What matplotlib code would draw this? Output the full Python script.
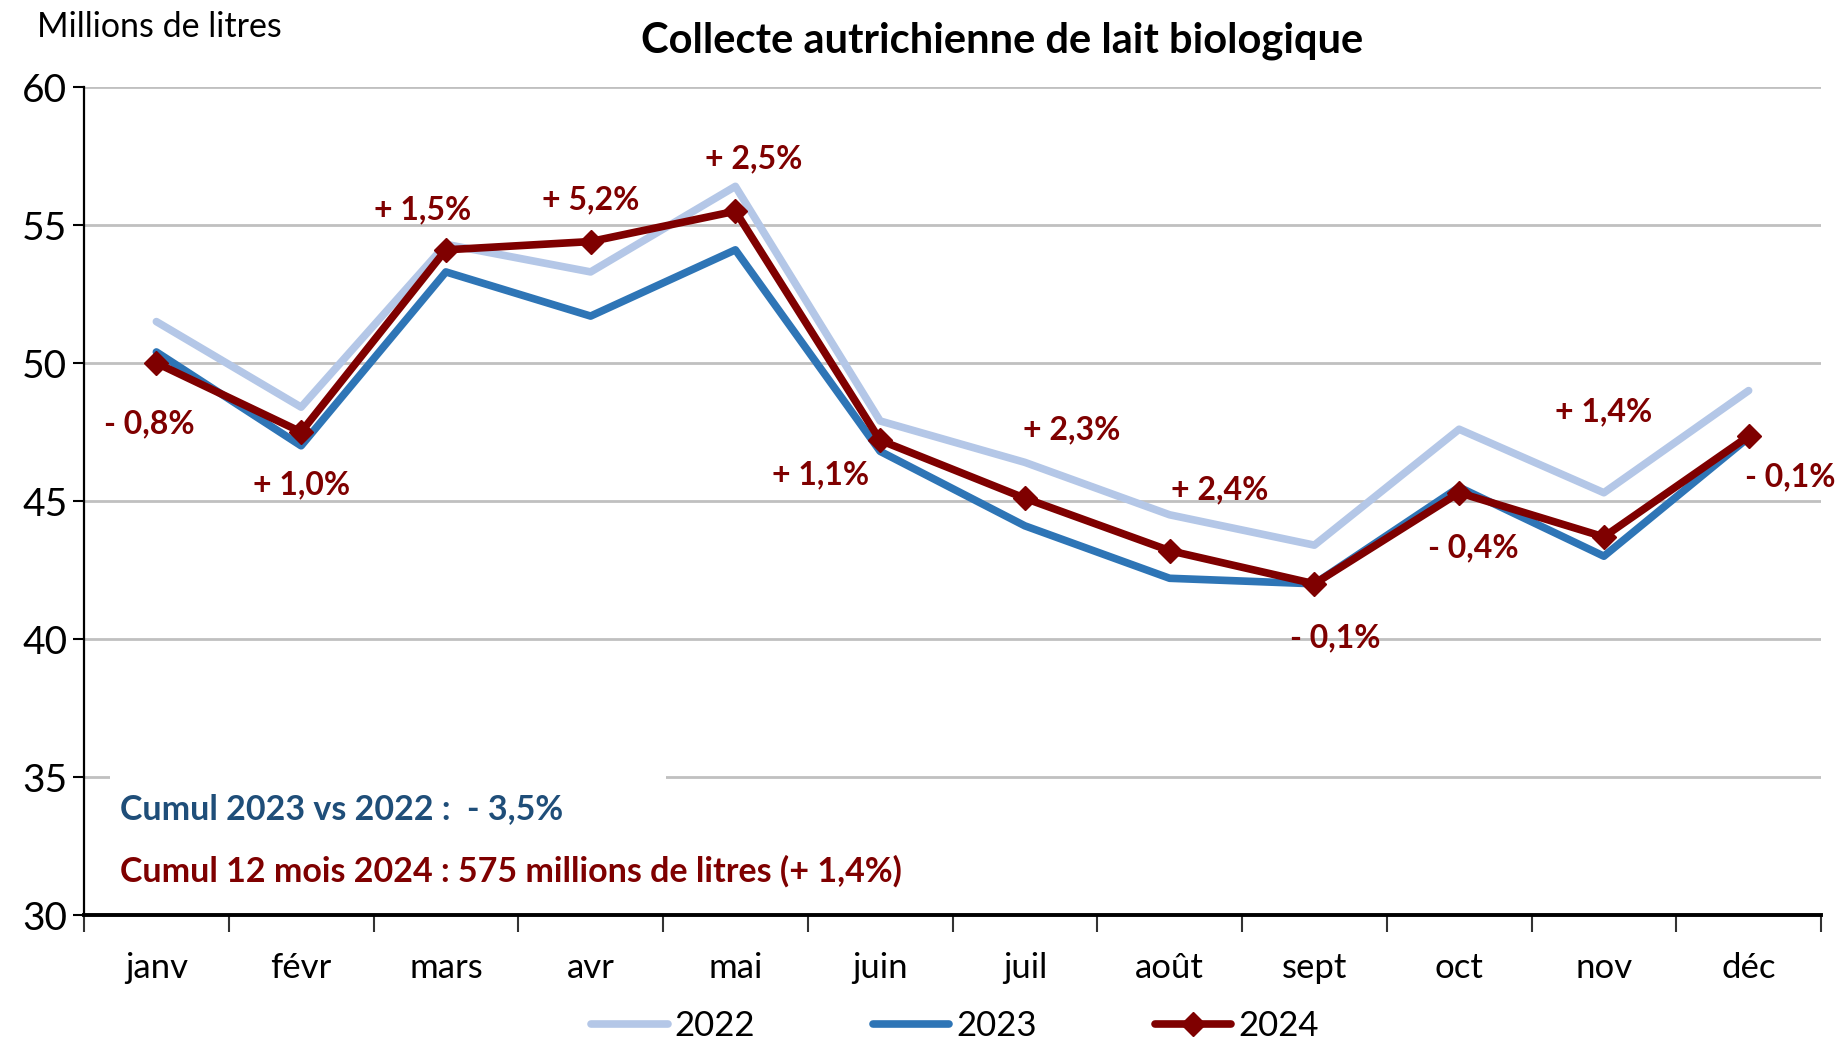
import numpy as np
import matplotlib
matplotlib.use("Agg")
from matplotlib import pyplot as plt
from matplotlib.patches import Rectangle

plt.rcParams['font.family'] = ['Lato', 'DejaVu Sans']

# donnees (millions de litres)
mois = ["janv", "févr", "mars", "avr", "mai", "juin", "juil", "août", "sept", "oct", "nov", "déc"]
v2022 = [51.5, 48.4, 54.3, 53.3, 56.4, 47.9, 46.4, 44.5, 43.4, 47.6, 45.3, 49.0]
v2023 = [50.4, 47.0, 53.3, 51.7, 54.1, 46.8, 44.1, 42.2, 42.0, 45.5, 43.0, 47.3]
v2024 = [50.0, 47.5, 54.1, 54.4, 55.5, 47.2, 45.1, 43.2, 42.0, 45.3, 43.7, 47.35]
variations = ["- 0,8%", "+ 1,0%", "+ 1,5%", "+ 5,2%", "+ 2,5%", "+ 1,1%",
              "+ 2,3%", "+ 2,4%", "- 0,1%", "- 0,4%", "+ 1,4%", "- 0,1%"]

C22 = "#b4c7e7"
C23 = "#2e75b6"
C24 = "#7f0000"

fig = plt.figure(figsize=(18.38, 10.42), dpi=100)
ax = fig.add_axes([84/1838, 1-915/1042, (1821-84)/1838, (915-87)/1042])

x = np.arange(len(mois))
ax.plot(x, v2022, color=C22, lw=5.5, solid_capstyle="round", label="2022", zorder=3)
ax.plot(x, v2023, color=C23, lw=5.5, solid_capstyle="round", label="2023", zorder=4)
ax.plot(x, v2024, color=C24, lw=5.5, solid_capstyle="round", marker="D",
        markersize=12, label="2024", zorder=5)

# decalages des etiquettes (points)
offsets = [(-5, -44), (0, -38), (-17, 29), (0, 30), (13, 38), (-43, -25),
           (34, 49), (36, 44), (15, -39), (10, -40), (0, 90), (30, -29)]
for i, (txt, off) in enumerate(zip(variations, offsets)):
    ax.annotate(txt, (x[i], v2024[i]), xytext=off, textcoords="offset points",
                ha="center", va="center", color=C24, fontsize=23, fontweight="bold",
                zorder=6)

ax.set_xlim(-0.5, 11.5)
ax.set_ylim(30, 60)
ax.set_yticks(np.arange(30, 61, 5))
ax.set_xticks(x)
ax.set_xticklabels(mois)
ax.set_xticks(np.arange(-0.5, 12, 1), minor=True)
ax.tick_params(axis="x", which="major", length=0, pad=27, labelsize=25)
ax.tick_params(axis="x", which="minor", length=12, width=1.5, color="#333333")
ax.tick_params(axis="y", length=8, width=1.5, labelsize=28, pad=4)
ax.yaxis.grid(True, color="#c0c0c0", lw=2, zorder=0)
ax.set_axisbelow(True)
for s in ["top", "right"]:
    ax.spines[s].set_visible(False)
ax.spines["left"].set_linewidth(1.6)
ax.spines["bottom"].set_linewidth(2.8)

# cadre blanc derriere le texte des cumuls
ax.add_patch(Rectangle((-0.32, 30.2), 3.84, 4.95, facecolor="white",
                       edgecolor="none", zorder=1))
ax.text(-0.25, 33.85, "Cumul 2023 vs 2022 :  - 3,5%", color="#1f4e79",
        fontsize=24.5, fontweight="bold", va="center", zorder=6)
ax.text(-0.25, 31.6, "Cumul 12 mois 2024 : 575 millions de litres (+ 1,4%)",
        color=C24, fontsize=24.5, fontweight="bold", va="center", zorder=6)

fig.text(1002/1838, 1-41/1042, "Collecte autrichienne de lait biologique",
         ha="center", va="center", fontsize=30, fontweight="bold")
fig.text(37/1838, 1-27/1042, "Millions de litres", ha="left", va="center",
         fontsize=24.5)

leg = fig.legend(loc="center", bbox_to_anchor=(955/1838, 1-1026/1042), ncol=3,
                 frameon=False, fontsize=25, handlelength=2.2, columnspacing=3.4,
                 handletextpad=0.2)

fig.savefig("out.png", dpi=100)
